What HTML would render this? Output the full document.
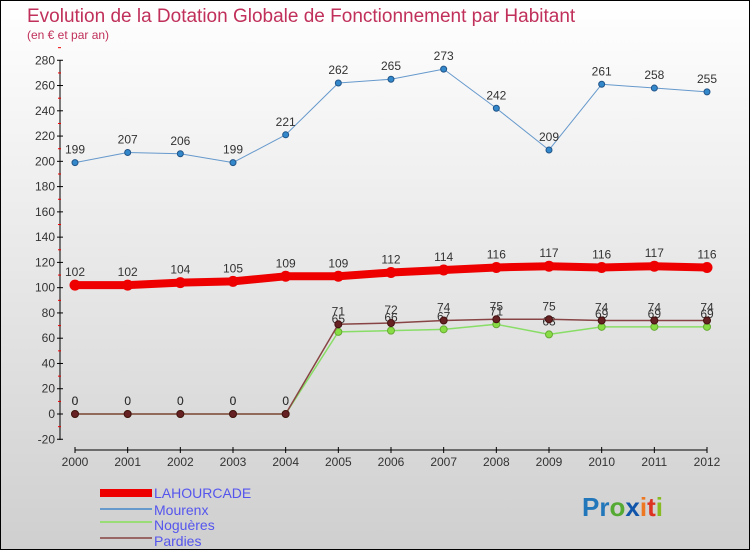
<!DOCTYPE html>
<html><head><meta charset="utf-8"><style>
body{margin:0;width:750px;height:550px;overflow:hidden;font-family:"Liberation Sans",sans-serif}
</style></head><body>
<svg width="750" height="550" xmlns="http://www.w3.org/2000/svg">
<defs><linearGradient id="bg" x1="0" y1="0" x2="0" y2="1"><stop offset="0" stop-color="#ffffff"/><stop offset="1" stop-color="#cfcfcf"/></linearGradient></defs>
<rect x="0.5" y="0.5" width="749" height="549" fill="url(#bg)" stroke="#000"/>
<text x="27" y="22" font-size="19" fill="#c0305a">Evolution de la Dotation Globale de Fonctionnement par Habitant</text>
<text x="27" y="39" font-size="12" fill="#c0305a">(en € et par an)</text>
<g id="axes"></g><g id="series"></g>
<g>
<rect x="100" y="489" width="52" height="8" fill="#ee0000"/>
<text x="154" y="498" font-size="14" fill="#5555ee">LAHOURCADE</text>
<line x1="100" y1="509" x2="152" y2="509" stroke="#6699cc" stroke-width="2"/>
<text x="154" y="515" font-size="14" fill="#5555ee">Mourenx</text>
<line x1="100" y1="522" x2="152" y2="522" stroke="#99dd77" stroke-width="2"/>
<text x="154" y="530" font-size="14" fill="#5555ee">Noguères</text>
<line x1="100" y1="538" x2="152" y2="538" stroke="#996666" stroke-width="2"/>
<text x="154" y="546" font-size="14" fill="#5555ee">Pardies</text>
</g>
<text x="582" y="516" font-size="26" font-weight="bold"><tspan fill="#2277bb">Pr</tspan><tspan fill="#55aa33">o</tspan><tspan fill="#1155aa">x</tspan><tspan fill="#ee7722">i</tspan><tspan fill="#dd3322">t</tspan><tspan fill="#88bb22">i</tspan></text>
</svg>
<script>
const years=[2000,2001,2002,2003,2004,2005,2006,2007,2008,2009,2010,2011,2012];
const yTicks=[-20,0,20,40,60,80,100,120,140,160,180,200,220,240,260,280];
const lahourcade=[102,102,104,105,109,109,112,114,116,117,116,117,116];
const mourenx=[199,207,206,199,221,262,265,273,242,209,261,258,255];
const nogueres=[0,0,0,0,0,65,66,67,71,63,69,69,69];
const pardies=[0,0,0,0,0,71,72,74,75,75,74,74,74];
const NS="http://www.w3.org/2000/svg";
const X=i=>75+i*(707-75)/(years.length-1);
const Y=v=>414-v*(379/300);
function el(t,a,p){const e=document.createElementNS(NS,t);for(const k in a)e.setAttribute(k,a[k]);p.appendChild(e);return e;}
const ax=document.getElementById('axes');
const axl=el('line',{x1:60,y1:60,x2:60,y2:440,stroke:'#000'},ax);


const xl=el('line',{x1:X(0),y1:450,x2:X(years.length-1),y2:450,stroke:'#000'},ax);


yTicks.forEach(v=>{
 const y=Y(v);
 el('line',{x1:57,y1:y,x2:63,y2:y,stroke:'#000'},ax);
 el('line',{x1:58,y1:y-12.6,x2:61,y2:y-12.6,stroke:'#e00'},ax);
 const t=el('text',{x:55,y:y+4,'font-size':12,'text-anchor':'end',fill:'#333'},ax);t.textContent=v;
 
 
});
years.forEach((yr,i)=>{
 el('line',{x1:X(i),y1:447,x2:X(i),y2:453,stroke:'#000'},ax);
 const t=el('text',{x:X(i),y:466,'font-size':12,'text-anchor':'middle',fill:'#333'},ax);t.textContent=yr;
 
 
});
const sg=document.getElementById('series');
function series(name,data,color,w,dot,dotStroke,r,labels){
 const g=el('g',{},sg);
 
 
 el('polyline',{points:data.map((v,i)=>X(i)+','+Y(v)).join(' '),fill:'none',stroke:color,'stroke-width':w,'stroke-linejoin':'round'},g);
 data.forEach((v,i)=>{
  const c=el('circle',{cx:X(i),cy:Y(v),r:r,fill:dot,stroke:dotStroke,'stroke-width':1},g);
  
  
  if(labels){const t=el('text',{x:X(i),y:Y(v)-9,'font-size':12,'text-anchor':'middle',fill:'#333'},g);t.textContent=v;
  
  }
 });
}
series('mourenx',mourenx,'#6699cc',1,'#3388cc','#225588',3,true);
series('nogueres',nogueres,'#88dd66',1.5,'#88dd44','#66aa33',3.5,true);
series('pardies',pardies,'#884444',1.5,'#662222','#441111',3.5,true);
series('lahourcade',lahourcade,'#ee0000',8,'#ee0000','#ee0000',5,true);
</script>
</body></html>
